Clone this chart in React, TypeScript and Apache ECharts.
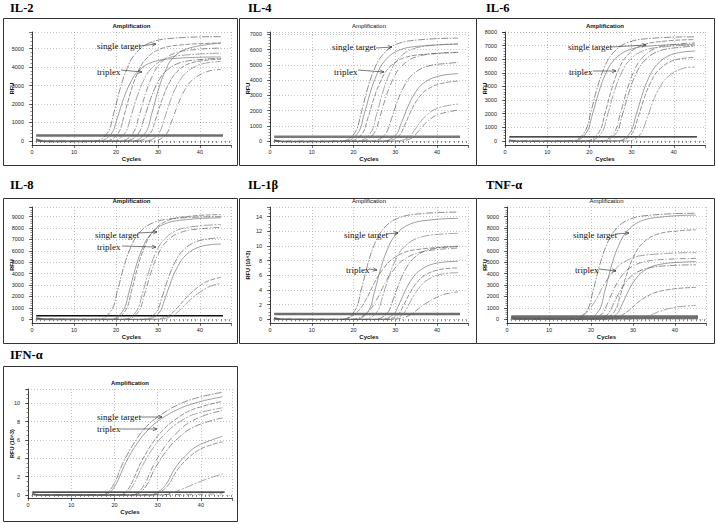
import React, { useEffect, useRef } from "react";
import * as echarts from "echarts";

type Pt = [number, number];

// ---------- tick labels ----------
const xTickLabels = [0, 10, 20, 30, 40];
const il2YTicks = [0, 1000, 2000, 3000, 4000, 5000];
const il4YTicks = [0, 1000, 2000, 3000, 4000, 5000, 6000, 7000];
const il6YTicks = [0, 1000, 2000, 3000, 4000, 5000, 6000, 7000, 8000];
const il8YTicks = [0, 1000, 2000, 3000, 4000, 5000, 6000, 7000, 8000, 9000];
const il1bYTicks = [0, 2, 4, 6, 8, 10, 12, 14];
const tnfYTicks = [0, 1000, 2000, 3000, 4000, 5000, 6000, 7000, 8000, 9000];
const ifnYTicks = [0, 2, 4, 6, 8, 10];

// ---------- thresholds ----------
const il2Threshold = 300;
const il4Threshold = 280;
const il6Threshold = 300;
const il8Threshold = 300;
const il1bThreshold = 0.72;
const tnfThreshold = 180;
const ifnThreshold = 0.32;

// ---------- amplification curves (cycle, RFU) ----------
const il2Curves: Pt[][] = [
  [[1,120],[3,10],[15,0],[18,450],[19.5,1530],[21,2830],[22.5,3840],[24.5,4690],[28,5310],[34,5570],[45,5650]],
  [[1,100],[3,0],[15.8,0],[18.8,360],[20.3,1230],[21.8,2280],[23.3,3090],[25.3,3780],[28.8,4280],[34.8,4480],[45,4550]],
  [[1,80],[3,0],[17.5,0],[20.5,420],[22,1430],[23.5,2650],[25,3600],[27,4400],[30.5,4980],[36.5,5220],[45,5300]],
  [[1,60],[3,-20],[19,0],[22,380],[23.5,1280],[25,2380],[26.5,3230],[28.5,3940],[32,4470],[38,4680],[45,4750]],
  [[1,50],[3,-30],[21,0],[24,400],[25.5,1360],[27,2530],[28.5,3430],[30.5,4190],[34,4750],[40,4970],[45,5030]],
  [[1,40],[3,-30],[22.2,0],[25.2,360],[26.7,1220],[28.2,2250],[29.7,3060],[31.7,3740],[35.2,4230],[41.2,4430],[45,4470]],
  [[1,40],[3,-30],[24,0],[27,430],[28.5,1460],[30,2700],[31.5,3670],[33.5,4480],[37,5000],[45,5300]],
  [[1,30],[3,-40],[25,0],[28,360],[29.5,1220],[31,2250],[32.5,3060],[34.5,3740],[38,4230],[45,4430]],
  [[1,30],[3,-40],[27,0],[30,350],[31.5,1190],[33,2200],[34.5,2990],[36.5,3650],[40,4140],[45,4300]],
  [[1,20],[3,-40],[28.8,0],[31.8,320],[33.3,1080],[34.8,2000],[36.3,2720],[38.3,3320],[41.8,3760],[45,3880]],
];

const il4Curves: Pt[][] = [
  [[1,80],[3,0],[17.3,0],[20.3,540],[21.8,1820],[23.3,3380],[24.8,4590],[26.8,5600],[30.3,6350],[36.3,6650],[45,6750]],
  [[1,60],[3,-20],[18,0],[21,510],[22.5,1710],[24,3180],[25.5,4320],[27.5,5270],[31,5970],[37,6250],[45,6350]],
  [[1,50],[3,-20],[19,0],[22,460],[23.5,1570],[25,2900],[26.5,3940],[28.5,4810],[32,5450],[38,5710],[45,5800]],
  [[1,50],[3,-30],[21,0],[24,510],[25.5,1730],[27,3200],[28.5,4350],[30.5,5310],[34,6020],[40,6300],[45,6380]],
  [[1,40],[3,-30],[21.8,0],[24.8,470],[26.3,1580],[27.8,2930],[29.3,3980],[31.3,4860],[34.8,5500],[40.8,5760],[45,5820]],
  [[1,40],[3,-30],[24.5,0],[27.5,420],[29,1400],[30.5,2600],[32,3540],[34,4320],[37.5,4890],[43.5,5120],[45,5150]],
  [[1,30],[3,-40],[27,0],[30,360],[31.5,1220],[33,2250],[34.5,3060],[36.5,3740],[40,4230],[45,4420]],
  [[1,30],[3,-40],[27.8,0],[30.8,320],[32.3,1080],[33.8,2000],[35.3,2720],[37.3,3320],[40.8,3760],[45,3930]],
  [[1,20],[3,-40],[30,0],[33,200],[34.5,680],[36,1250],[37.5,1700],[39.5,2080],[43,2350],[45,2420]],
  [[1,20],[3,-40],[30.8,0],[33.8,170],[35.3,570],[36.8,1050],[38.3,1430],[40.3,1740],[43.8,1970],[45,2030]],
];

const il6Curves: Pt[][] = [
  [[1,80],[3,0],[15.8,0],[18.8,610],[20.3,2070],[21.8,3830],[23.3,5200],[25.3,6350],[28.8,7190],[34.8,7540],[45,7650]],
  [[1,60],[3,-20],[16.2,0],[19.2,570],[20.7,1920],[22.2,3550],[23.7,4830],[25.7,5890],[29.2,6670],[35.2,6990],[45,7100]],
  [[1,50],[3,-20],[19.2,0],[22.2,600],[23.7,2010],[25.2,3730],[26.7,5070],[28.7,6180],[32.2,7000],[38.2,7340],[45,7440]],
  [[1,50],[3,-30],[19.8,0],[22.8,560],[24.3,1900],[25.8,3530],[27.3,4790],[29.3,5850],[32.8,6630],[38.8,6940],[45,7030]],
  [[1,40],[3,-30],[22.8,0],[25.8,580],[27.3,1960],[28.8,3630],[30.3,4930],[32.3,6020],[35.8,6820],[41.8,7140],[45,7200]],
  [[1,40],[3,-30],[23.3,0],[26.3,560],[27.8,1890],[29.3,3500],[30.8,4760],[32.8,5810],[36.3,6580],[42.3,6900],[45,6950]],
  [[1,30],[3,-40],[26.5,0],[29.5,540],[31,1820],[32.5,3380],[34,4590],[36,5600],[39.5,6350],[45,6600]],
  [[1,30],[3,-40],[27,0],[30,500],[31.5,1700],[33,3150],[34.5,4280],[36.5,5230],[40,5920],[45,6130]],
  [[1,20],[3,-40],[29,0],[32,450],[33.5,1530],[35,2830],[36.5,3840],[38.5,4690],[42,5310],[45,5430]],
];

const il8Curves: Pt[][] = [
  [[1,150],[3,50],[15.8,0],[18.8,720],[20.3,2430],[21.8,4500],[23.3,6120],[25.3,7470],[28.8,8460],[34.8,8870],[45,9000]],
  [[1,120],[3,30],[18.6,0],[21.6,710],[23.1,2400],[24.6,4450],[26.1,6050],[28.1,7390],[31.6,8370],[37.6,8770],[45,8900]],
  [[1,100],[3,20],[19.2,0],[22.2,740],[23.7,2480],[25.2,4600],[26.7,6260],[28.7,7640],[32.2,8650],[38.2,9060],[45,9180]],
  [[1,80],[3,0],[21.8,0],[24.8,670],[26.3,2250],[27.8,4180],[29.3,5680],[31.3,6930],[34.8,7850],[40.8,8220],[45,8300]],
  [[1,80],[3,0],[22.3,0],[25.3,650],[26.8,2190],[28.3,4050],[29.8,5510],[31.8,6720],[35.3,7610],[41.3,7980],[45,8050]],
  [[1,60],[3,-20],[26.5,0],[29.5,580],[31,1970],[32.5,3650],[34,4960],[36,6060],[39.5,6860],[45,7150]],
  [[1,60],[3,-20],[27.2,0],[30.2,540],[31.7,1840],[33.2,3400],[34.7,4620],[36.7,5640],[40.2,6390],[45,6600]],
  [[1,40],[3,-30],[29,0],[32.5,320],[34.8,1080],[37,2000],[39.2,2720],[41.7,3320],[45,3700]],
  [[1,40],[3,-30],[29.8,0],[33.3,280],[35.6,950],[37.8,1750],[40,2380],[42.5,2900],[45,3150]],
];

const il1bCurves: Pt[][] = [
  [[1,0.25],[3,0.05],[17.3,0],[20.3,1.17],[21.8,3.94],[23.3,7.3],[24.8,9.93],[26.8,12.1],[30.3,13.7],[36.3,14.4],[45,14.6]],
  [[1,0.2],[3,0.03],[20.5,0],[23.5,1.1],[25,3.73],[26.5,6.9],[28,9.38],[30,11.45],[33.5,12.97],[39.5,13.6],[45,13.75]],
  [[1,0.2],[3,0.02],[17,0],[20.5,0.8],[23,2.7],[25,5.0],[27,6.8],[29.5,8.3],[34,9.4],[45,9.9]],
  [[1,0.15],[3,0],[22.5,0],[25.5,0.94],[27,3.19],[28.5,5.9],[30,8.02],[32,9.79],[35.5,11.09],[41.5,11.63],[45,11.7]],
  [[1,0.15],[3,0],[19.5,0],[23,0.78],[25.5,2.65],[27.5,4.9],[29.5,6.66],[32,8.13],[36.5,9.21],[45,9.7]],
  [[1,0.1],[3,-0.02],[25,0],[28,0.81],[29.5,2.73],[31,5.05],[32.5,6.87],[34.5,8.38],[38,9.49],[45,9.95]],
  [[1,0.1],[3,-0.02],[26.5,0],[29.5,0.65],[31,2.19],[32.5,4.05],[34,5.51],[36,6.72],[39.5,7.61],[45,7.9]],
  [[1,0.1],[3,-0.03],[27.5,0],[30.5,0.58],[32,1.94],[33.5,3.6],[35,4.9],[37,5.98],[40.5,6.77],[45,7.0]],
  [[1,0.05],[3,-0.03],[28.5,0],[31.5,0.53],[33,1.78],[34.5,3.3],[36,4.49],[38,5.48],[41.5,6.2],[45,6.35]],
  [[1,0.05],[3,-0.03],[29,0],[32.5,0.33],[34.8,1.11],[37,2.05],[39.2,2.79],[41.7,3.4],[45,3.75]],
];

const tnfCurves: Pt[][] = [
  [[1,150],[3,50],[16,0],[19,740],[20.5,2510],[22,4650],[23.5,6320],[25.5,7720],[29,8740],[35,9160],[45,9300]],
  [[1,120],[3,30],[18.8,0],[21.8,730],[23.3,2470],[24.8,4580],[26.3,6220],[28.3,7590],[31.8,8600],[37.8,9010],[45,9140]],
  [[1,100],[3,20],[22.5,0],[25.5,630],[27,2130],[28.5,3950],[30,5370],[32,6560],[35.5,7430],[41.5,7780],[45,7850]],
  [[1,100],[3,20],[15,0],[18.5,480],[21,1610],[23,2980],[25,4050],[27.5,4940],[32,5590],[45,5850]],
  [[1,80],[3,0],[19.5,0],[22.5,430],[24,1440],[25.5,2680],[27,3640],[29,4440],[32.5,5030],[38.5,5270],[45,5330]],
  [[1,80],[3,0],[20.8,0],[23.8,380],[25.3,1300],[26.8,2400],[28.3,3260],[30.3,3980],[33.8,4510],[39.8,4730],[45,4780]],
  [[1,60],[3,-10],[23,0],[26,410],[27.5,1380],[29,2550],[30.5,3470],[32.5,4230],[36,4790],[42,5020],[45,5060]],
  [[1,60],[3,-10],[23,0],[26.5,230],[29,770],[31,1430],[33,1940],[35.5,2370],[40,2680],[45,2800]],
  [[1,40],[3,-20],[28,0],[31.5,100],[34,350],[36,650],[38,880],[40.5,1080],[45,1220]],
];

const ifnCurves: Pt[][] = [
  [[1,0.15],[3,0],[17,0],[18.5,0.3],[20,1.3],[22,3.5],[25,6.0],[27.5,7.5],[30,8.5],[35,9.9],[40,10.7],[45,11.2]],
  [[1,0.12],[3,0],[17.5,0],[19,0.3],[20.5,1.3],[22.5,3.4],[25.5,5.8],[28,7.2],[30.5,8.2],[35,9.4],[40,10.2],[45,10.7]],
  [[1,0.1],[3,0],[21,0],[22.5,0.3],[24,1.3],[26,3.4],[29,5.8],[31.5,7.2],[34,8.2],[38,9.3],[45,10.2]],
  [[1,0.1],[3,0],[21.5,0],[23,0.3],[24.5,1.2],[26.5,3.2],[29.5,5.5],[32,6.8],[34.5,7.8],[38.5,8.8],[45,9.5]],
  [[1,0.08],[3,0],[24,0],[25.5,0.3],[27,1.2],[29,3.2],[32,5.5],[34.5,6.8],[37,7.8],[41,8.7],[45,9.2]],
  [[1,0.08],[3,0],[24.5,0],[26,0.3],[27.5,1.1],[29.5,3.0],[32.5,5.1],[35,6.3],[37.5,7.2],[41,7.9],[45,8.4]],
  [[1,0.05],[3,-0.02],[28,0],[30,0.3],[32,1.2],[34,2.9],[36.5,4.3],[39,5.3],[42,5.9],[45,6.4]],
  [[1,0.05],[3,-0.02],[28.5,0],[30.5,0.3],[32.5,1.1],[34.5,2.7],[37,4.0],[39.5,4.9],[42,5.4],[45,5.8]],
  [[1,0.05],[3,-0.02],[31,0],[33,0.2],[36,0.7],[40,1.5],[45,2.3]],
  [[1,0.1],[3,0.05],[33,0.05],[45,0.12]],
];

// ---------- layout ----------
interface Panel {
  title: string; tx: number; ty: number;
  box: [number, number, number, number];
  grid: [number, number, number, number];
  xMin: number; xMax: number; yMin: number; yMax: number;
  yTicks: number[]; yMinor: number; yName: string;
  thr: number; thrColor: string; thrWidth: number;
  curves: Pt[][];
  ampBold: boolean;
  single: [number, number, number, number, number, number];
  triplex: [number, number, number, number, number, number];
}

const panels: Panel[] = [
  { title: "IL-2", tx: 10, ty: 8, box: [3, 18, 234, 147], grid: [32, 32, 199, 113], xMin: 0, xMax: 47.4, yMin: -220, yMax: 5900,
    yTicks: il2YTicks, yMinor: 200, yName: "RFU", thr: il2Threshold, thrColor: "#6e6e6e", thrWidth: 2.5, curves: il2Curves, ampBold: true,
    single: [97, 46, 140, 46, 156, 44], triplex: [97, 72, 121, 70, 142, 72] },
  { title: "IL-4", tx: 248, ty: 8, box: [239, 18, 237, 147], grid: [270, 32, 198, 113], xMin: 0, xMax: 47.4, yMin: -260, yMax: 7150,
    yTicks: il4YTicks, yMinor: 200, yName: "RFU", thr: il4Threshold, thrColor: "#7a7a7a", thrWidth: 2.5, curves: il4Curves, ampBold: false,
    single: [332, 47, 376, 48, 392, 47], triplex: [334, 72, 358, 70, 384, 72] },
  { title: "IL-6", tx: 486, ty: 8, box: [476, 18, 238, 147], grid: [505, 32, 200, 113], xMin: 0, xMax: 47.4, yMin: -300, yMax: 8000,
    yTicks: il6YTicks, yMinor: 200, yName: "RFU", thr: il6Threshold, thrColor: "#111", thrWidth: 1.3, curves: il6Curves, ampBold: true,
    single: [568, 47, 611, 47, 646, 45], triplex: [569, 72, 593, 71, 616, 71] },
  { title: "IL-8", tx: 10, ty: 185, box: [3, 198, 234, 145], grid: [32, 207, 199, 116], xMin: 0, xMax: 47.4, yMin: -325, yMax: 9850,
    yTicks: il8YTicks, yMinor: 200, yName: "RFU", thr: il8Threshold, thrColor: "#111", thrWidth: 1.5, curves: il8Curves, ampBold: true,
    single: [95, 235, 138, 233, 157, 232], triplex: [97, 247, 122, 246, 156, 247] },
  { title: "IL-1β", tx: 248, ty: 185, box: [239, 198, 237, 145], grid: [270, 207, 198, 116], xMin: 0, xMax: 47.4, yMin: -0.5, yMax: 15.3,
    yTicks: il1bYTicks, yMinor: 0.5, yName: "RFU (10^3)", thr: il1bThreshold, thrColor: "#6e6e6e", thrWidth: 2.5, curves: il1bCurves, ampBold: false,
    single: [344, 235, 386, 234, 398, 233], triplex: [346, 270, 369, 269, 377, 270] },
  { title: "TNF-α", tx: 486, ty: 185, box: [476, 198, 238, 145], grid: [507, 207, 199, 116], xMin: 0, xMax: 47.4, yMin: -325, yMax: 9850,
    yTicks: tnfYTicks, yMinor: 200, yName: "RFU", thr: tnfThreshold, thrColor: "#6e6e6e", thrWidth: 4, curves: tnfCurves, ampBold: false,
    single: [573, 235, 616, 234, 629, 233], triplex: [575, 270, 599, 269, 616, 271] },
  { title: "IFN-α", tx: 10, ty: 355, box: [3, 366, 234, 155], grid: [28, 389, 204, 109], xMin: 0, xMax: 47.2, yMin: -0.33, yMax: 11.55,
    yTicks: ifnYTicks, yMinor: 0.5, yName: "RFU (10^3)", thr: ifnThreshold, thrColor: "#111", thrWidth: 1.3, curves: ifnCurves, ampBold: true,
    single: [97, 417, 140, 417, 162, 417], triplex: [97, 429, 120, 429, 157, 429] },
];

const curveColors = ["#505050", "#6a6a6a", "#5a5a5a", "#747474", "#555555"];
const curveDashes: any[] = [[7, 1.5, 1.5, 1.5], "solid", [5, 1.5], [9, 1.5, 2, 1.5], [6, 2, 1, 2]];

const SANS = '"Liberation Sans", Arial, sans-serif';
const SERIF = '"Liberation Serif", "Times New Roman", serif';

function steps(a: number, b: number, s: number): number[] {
  const out: number[] = [];
  const n = Math.floor((b - a) / s + 1e-9);
  for (let k = 0; k <= n; k++) out.push(+(a + k * s).toFixed(4));
  return out;
}

function arrowGraphics(x1: number, y1: number, x2: number, y2: number): any[] {
  const a = Math.atan2(y2 - y1, x2 - x1);
  const L = 4.5, w = 0.42;
  return [
    { type: "line", z: 100, shape: { x1, y1, x2, y2 }, style: { stroke: "#222", lineWidth: 0.6 } },
    { type: "polyline", z: 100, shape: { points: [[x2 - L * Math.cos(a - w), y2 - L * Math.sin(a - w)], [x2, y2], [x2 - L * Math.cos(a + w), y2 - L * Math.sin(a + w)]] },
      style: { stroke: "#222", fill: "none", lineWidth: 0.6 } },
  ];
}

function buildOption(): any {
  const grid: any[] = [], xAxis: any[] = [], yAxis: any[] = [], series: any[] = [], graphic: any[] = [];
  panels.forEach((p, i) => {
    const [gl, gt, gw, gh] = p.grid;
    grid.push({ left: gl, top: gt, width: gw, height: gh, containLabel: false });
    xAxis.push({
      gridIndex: i, type: "value", min: p.xMin, max: p.xMax, position: "bottom",
      axisLine: { show: true, onZero: false, lineStyle: { color: "#111", width: 0.8 } },
      axisTick: { show: true, customValues: [...xTickLabels, p.xMax], length: 3, lineStyle: { color: "#111", width: 0.6 } },
      axisLabel: { customValues: xTickLabels, fontSize: 5.5, color: "#222", margin: 4, fontFamily: SANS, formatter: (v: number) => String(v) },
      splitLine: { show: true, lineStyle: { color: "#9a9a9a", type: [1, 2], width: 0.6 } },
    });
    xAxis.push({
      gridIndex: i, type: "value", min: p.xMin, max: p.xMax, position: "bottom",
      axisLine: { show: false }, axisLabel: { show: false }, splitLine: { show: false },
      axisTick: { show: true, customValues: steps(1, Math.floor(p.xMax), 1), length: 2, lineStyle: { color: "#111", width: 0.5 } },
    });
    yAxis.push({
      gridIndex: i, type: "value", min: p.yMin, max: p.yMax, position: "left",
      axisLine: { show: true, onZero: false, lineStyle: { color: "#111", width: 0.8 } },
      axisTick: { show: true, customValues: [...p.yTicks, p.yMax], length: 3, lineStyle: { color: "#111", width: 0.6 } },
      axisLabel: { customValues: p.yTicks, fontSize: 5.5, color: "#222", margin: 8, fontFamily: SANS, formatter: (v: number) => String(v) },
      splitLine: { show: true, lineStyle: { color: "#9a9a9a", type: [1, 2], width: 0.6 } },
    });
    yAxis.push({
      gridIndex: i, type: "value", min: p.yMin, max: p.yMax, position: "left",
      axisLine: { show: false }, axisLabel: { show: false }, splitLine: { show: false },
      axisTick: { show: true, customValues: steps(0, p.yMax, p.yMinor), length: 1.5, lineStyle: { color: "#111", width: 0.5 } },
    });
    p.curves.forEach((c, j) => {
      series.push({
        type: "line", xAxisIndex: 2 * i, yAxisIndex: 2 * i, data: c, showSymbol: false, symbol: "none",
        smooth: 0.4, silent: true, z: 3,
        lineStyle: { color: curveColors[j % curveColors.length], width: 0.65, type: curveDashes[j % curveDashes.length] },
      });
    });
    series.push({
      type: "line", xAxisIndex: 2 * i, yAxisIndex: 2 * i, data: [[1, p.thr], [45.5, p.thr]], showSymbol: false, symbol: "none",
      silent: true, z: 2, lineStyle: { color: p.thrColor, width: p.thrWidth },
    });

    const [bx, by, bw, bh] = p.box;
    graphic.push({ type: "rect", z: 1, shape: { x: bx + 0.5, y: by + 0.5, width: bw, height: bh }, style: { fill: "none", stroke: "#333", lineWidth: 1 } });
    graphic.push({ type: "text", z: 100, x: p.tx, y: p.ty, style: { text: p.title, font: `bold 12.5px ${SERIF}`, fill: "#000", align: "left", verticalAlign: "middle" } });
    graphic.push({ type: "text", z: 100, x: gl + gw / 2, y: gt - 6.5, style: { text: "Amplification", font: `${p.ampBold ? "bold " : ""}6px ${SANS}`, fill: "#111", align: "center", verticalAlign: "middle" } });
    graphic.push({ type: "text", z: 100, x: gl + gw / 2, y: gt + gh + 14, style: { text: "Cycles", font: `bold 6px ${SANS}`, fill: "#111", align: "center", verticalAlign: "middle" } });
    graphic.push({ type: "text", z: 100, x: bx + 9, y: gt + gh / 2, rotation: Math.PI / 2, style: { text: p.yName, font: `bold 5.5px ${SANS}`, fill: "#111", align: "center", verticalAlign: "middle" } });
    const s = p.single, t = p.triplex;
    graphic.push({ type: "text", z: 100, x: s[0], y: s[1], style: { text: "single target", font: `9px ${SERIF}`, fill: "#111", align: "left", verticalAlign: "middle" } });
    graphic.push(...arrowGraphics(s[2], s[3], s[4], s[5]));
    graphic.push({ type: "text", z: 100, x: t[0], y: t[1], style: { text: "triplex", font: `9px ${SERIF}`, fill: "#111", align: "left", verticalAlign: "middle" } });
    graphic.push(...arrowGraphics(t[2], t[3], t[4], t[5]));
  });
  return { animation: false, backgroundColor: "#fff", grid, xAxis, yAxis, series, graphic };
}

export default function App() {
  const ref = useRef<HTMLDivElement>(null);
  useEffect(() => {
    if (!ref.current) return;
    const chart = echarts.init(ref.current, undefined, { renderer: "svg", width: 716, height: 524 });
    chart.setOption(buildOption());
    return () => chart.dispose();
  }, []);
  return <div ref={ref} style={{ position: "absolute", left: 0, top: 0, width: 716, height: 524, background: "#fff" }} />;
}
